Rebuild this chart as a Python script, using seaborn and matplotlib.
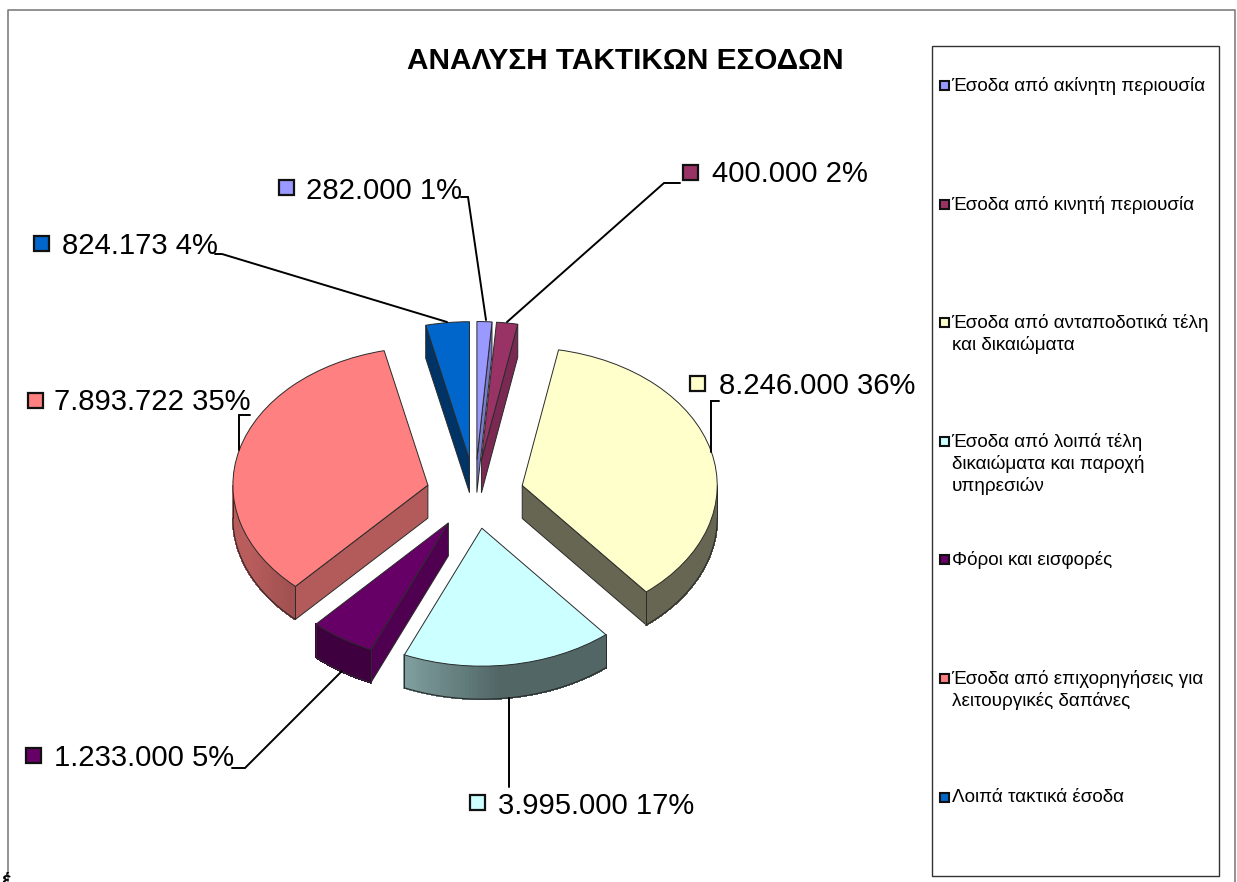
import numpy as np
import matplotlib
matplotlib.use("Agg")
import matplotlib.pyplot as plt
from matplotlib.patches import Rectangle, Polygon
import seaborn as sns

# ---- data ----
title = "ΑΝΑΛΥΣΗ ΤΑΚΤΙΚΩΝ ΕΣΟΔΩΝ"
categories = [
    "Έσοδα από ακίνητη περιουσία",
    "Έσοδα από κινητή περιουσία",
    "Έσοδα από ανταποδοτικά τέλη\nκαι δικαιώματα",
    "Έσοδα από λοιπά τέλη\nδικαιώματα και παροχή\nυπηρεσιών",
    "Φόροι και εισφορές",
    "Έσοδα από επιχορηγήσεις για\nλειτουργικές δαπάνες",
    "Λοιπά τακτικά έσοδα",
]
values = [282000, 400000, 8246000, 3995000, 1233000, 7893722, 824173]
colors = ["#9999FF", "#993366", "#FFFFCC", "#CCFFFF", "#660066", "#FF8080", "#0066CC"]

# ---- style ----
sns.set_theme(style="white")
plt.rcParams["font.family"] = ["Liberation Sans", "DejaVu Sans"]
palette = sns.color_palette(colors)

W, H = 1237, 882
CX, CY, RX, RY, DEPTH = 475, 494, 195, 138, 33
EXPLODE = 0.25
wall_shade = [0.80, 0.80, 0.40, 0.40, 0.78, 0.70, 0.50]
rim_knots = ([90, 175, 203, 222, 245, 270], [0.40, 0.40, 0.62, 0.62, 0.72, 0.72])
EDGE = "#2a2a2a"

fig = plt.figure(figsize=(W / 100, H / 100), dpi=100, facecolor="white")

# pie axes: one data unit is RX px horizontally and RY px vertically
ax = fig.add_axes([0, 0, 1, 1])
ax.pie(values, colors=palette, explode=[EXPLODE] * len(values), startangle=90,
       counterclock=False, radius=1,
       wedgeprops=dict(edgecolor=EDGE, linewidth=0.7, zorder=5))
ax.set_aspect("auto")
ax.set_xlim(-CX / RX, (W - CX) / RX)
ax.set_ylim((CY - H) / RY, CY / RY)
ax.axis("off")

# extruded walls computed from the same values
fractions = np.array(values) / np.sum(values)
stops = np.concatenate([[0], np.cumsum(fractions)]) * 360
d = DEPTH / RY
for i, col in enumerate(palette):
    a, b = stops[i], stops[i + 1]
    m = np.radians((a + b) / 2)
    ox, oy = EXPLODE * np.sin(m), EXPLODE * np.cos(m)
    wc = tuple(c * wall_shade[i] for c in col)
    for ang, vis in ((a, np.sin(np.radians(a)) < 0), (b, np.sin(np.radians(b)) > 0)):
        if vis:
            t = np.radians(ang)
            rx, ry = ox + np.sin(t), oy + np.cos(t)
            ax.add_patch(Polygon([(ox, oy), (rx, ry), (rx, ry - d), (ox, oy - d)],
                                 closed=True, facecolor=wc, edgecolor=EDGE, linewidth=0.7, zorder=2))
    lo, hi = max(a, 90), min(b, 270)
    if hi > lo:
        th = np.linspace(lo, hi, 60)
        tt = np.radians(th)
        top = np.column_stack([ox + np.sin(tt), oy + np.cos(tt)])
        bot = top - [0, d]
        fm = np.mean(np.interp(th, *rim_knots))
        ax.add_patch(Polygon(np.vstack([top, bot[::-1]]), closed=True,
                             facecolor=tuple(v * fm for v in col), edgecolor="none", zorder=2.5))
        for k in range(len(th) - 1):
            f = np.interp((th[k] + th[k + 1]) / 2, *rim_knots)
            c = tuple(v * f for v in col)
            ax.add_patch(Polygon([top[k], top[k + 1], bot[k + 1], bot[k]],
                                 closed=True, facecolor=c, edgecolor=c, linewidth=0.8,
                                 antialiased=False, zorder=3))
        ax.plot(bot[:, 0], bot[:, 1], color=EDGE, lw=0.8, zorder=4)
        for p, q in ((top[0], bot[0]), (top[-1], bot[-1])):
            ax.plot([p[0], q[0]], [p[1], q[1]], color=EDGE, lw=0.7, zorder=4)

# overlay in pixel coordinates for frames, labels and legend
ov = fig.add_axes([0, 0, 1, 1], zorder=10)
ov.set_xlim(0, W)
ov.set_ylim(H, 0)
ov.axis("off")

ov.plot([7.5, 7.5, 1235, 1235], [H + 5, 10, 10, H + 5], color="#7f7f7f", lw=1.2)
ov.add_patch(Rectangle((932, 46), 287, 829.5, facecolor="white", edgecolor="#333333", lw=1.0))
ov.text(625.5, 61, title, fontsize=21.4, fontweight="bold", ha="center", va="center", color="black")
ov.text(1, 885, "έ", fontsize=14, fontweight="bold", ha="left", va="baseline", color="black",
        clip_on=True)

# data labels
label_pos = [(306, 191), (712, 174), (719, 386), (498, 806), (54, 758), (54, 402), (62, 246)]
square_pos = [(286, 187), (690, 172), (697, 383), (477, 802), (33, 755), (35, 400), (41, 243)]
connectors = [
    [(486, 320), (468, 197), (461, 197)],
    [(507, 322), (664, 183), (680, 183)],
    [(711, 452), (711, 401), (719, 401)],
    [(509, 698), (509, 787)],
    [(342, 671), (245, 768), (232, 768)],
    [(239, 450), (239, 415), (250, 415)],
    [(447, 322), (222, 254), (215, 254)],
]
for i, v in enumerate(values):
    txt = f"{v:,}".replace(",", ".") + f" {round(fractions[i] * 100)}%"
    ov.text(*label_pos[i], txt, fontsize=21.1, ha="left", va="center", color="black")
    sx, sy = square_pos[i]
    ov.add_patch(Rectangle((sx - 7.5, sy - 7.5), 15, 15, facecolor=palette[i], edgecolor="#111111", lw=1.6))
    pts = np.array(connectors[i])
    ov.plot(pts[:, 0], pts[:, 1], color="black", lw=1.4, solid_joinstyle="miter")

# legend
legend_y = [85, 204, 322, 441, 559, 678, 797]
for i, cat in enumerate(categories):
    y = legend_y[i]
    ov.add_patch(Rectangle((939.5, y - 4.5), 9, 9, facecolor=palette[i], edgecolor="#111111", lw=1.5))
    for k, line in enumerate(cat.split("\n")):
        ov.text(952 if k else 951.5, y + 1 + 22 * k, line, fontsize=13.6, ha="left", va="center", color="black")

fig.savefig("out.png", dpi=100)
